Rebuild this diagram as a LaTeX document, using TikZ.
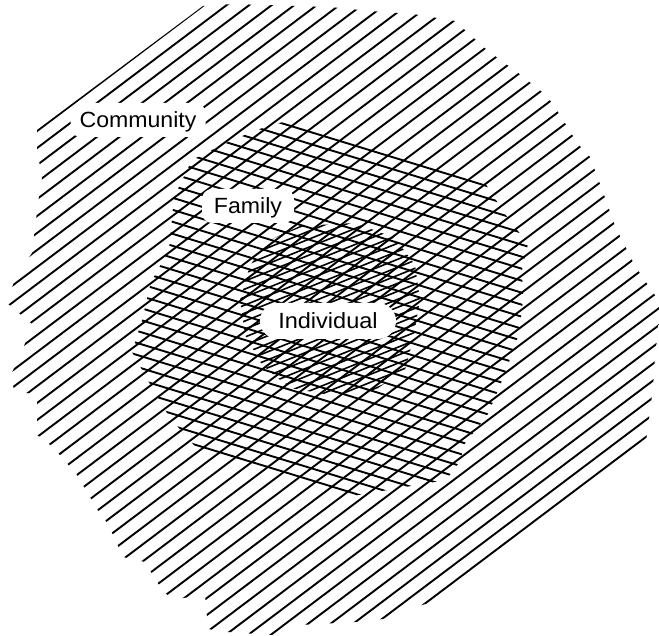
\documentclass[tikz,border=0pt]{standalone}
\usepackage{fontspec}
\setmainfont{Liberation Sans}
\usetikzlibrary{shapes.misc}
\begin{document}
\begin{tikzpicture}[x=1pt,y=-1pt,
  hatch/.style={line width=1.9pt, line cap=round},
  finehatch/.style={line width=1.6pt, line cap=round},
  lbl/.style={fill=white, font=\fontsize{22}{25}\selectfont, inner sep=0pt,
    text height=16pt, text depth=0pt}]
\useasboundingbox (0,0) rectangle (659,636);
% outer region: community
\begin{scope}
\clip (37,130) -- (203,6) -- (233,4) -- (330,7) -- (370,11) -- (413,14) -- (455,21)
  -- (488,51) -- (517,72) -- (547,96) -- (558,112) -- (578,144) -- (590,157)
  -- (603,192) -- (615,226) -- (635,266) -- (659,301) -- (659,323) -- (655,356)
  -- (653,388) -- (646,441) -- (443,599) -- (415,607) -- (383,619) -- (355,622)
  -- (300,625) -- (272,635) -- (227,632) -- (208,629) -- (205,594) -- (173,600)
  -- (162,590) -- (145,562) -- (123,557) -- (108,524) -- (97,509) -- (77,475)
  -- (53,447) -- (37,435) -- (37,394) -- (15,392) -- (10,377) -- (23,349)
  -- (32,324) -- (7,303) -- (15,279) -- (32,253) -- (38,203) -- (42,178)
  -- (37,149) -- cycle;
\foreach \c in {159,176,...,930}
  \draw[hatch] (-10,{\c+7.54}) -- (700,{\c-527.8});
\end{scope}
% middle region: family
\begin{scope}
\clip (288,121) -- (485,183) -- (505,214) -- (528,244) -- (522,270) -- (523,300)
  -- (519,334) -- (504,376) -- (488,414) -- (463,446) -- (461,460) -- (446,480)
  -- (347,497) -- (200,452) -- (170,418) -- (155,393) -- (132,352) -- (142,320)
  -- (151,282) -- (169,250) -- (174,197) -- (192,160) -- (232,140) -- (270,125)
  -- cycle;
\foreach \i in {0,...,29}
  \draw[hatch] (100,{37+12*\i+30.6}) -- (560,{37+12*\i+171.4});
\end{scope}
% inner region: individual
\begin{scope}
\clip (300,226) -- (355,223) -- (395,238) -- (415,265) -- (420,300) -- (413,340)
  -- (405,370) -- (375,390) -- (330,395) -- (290,388) -- (262,365) -- (245,335)
  -- (240,300) -- (250,265) -- (270,240) -- cycle;
\foreach \e in {340,348,...,540}
  \draw[finehatch] (220,{\e-88.9}) -- (440,{\e-177.8});
\end{scope}
% labels
\node[lbl, rounded corners=10pt, minimum width=135pt, minimum height=34pt]
  (community) at (138,120) {\scalebox{1.05}[1]{Community}};
\node[lbl, rounded corners=10pt, minimum width=92pt, minimum height=34pt]
  (family) at (248,206) {\scalebox{1.05}[1]{Family}};
\node[lbl, rounded rectangle, minimum width=136pt, minimum height=36pt]
  (individual) at (328,321) {\scalebox{1.07}[1]{Individual}};
\end{tikzpicture}
\end{document}
